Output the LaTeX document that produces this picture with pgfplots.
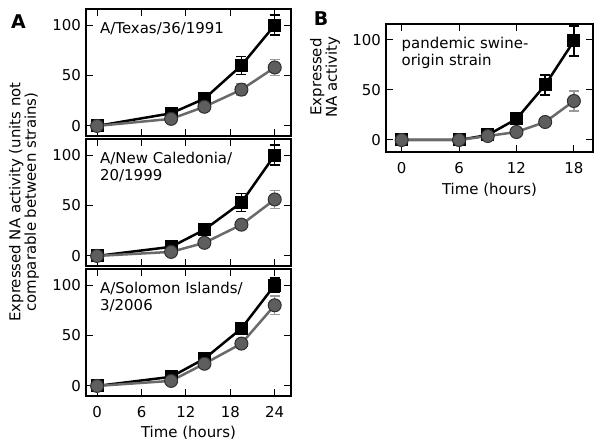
\documentclass[border=0pt]{standalone}
\usepackage{fontspec}
\setmainfont{DejaVu Sans}
\usepackage{pgfplots}
\usepackage{pgfplotstable}
\pgfplotsset{compat=1.18}
\definecolor{grayline}{HTML}{6A6A6A}
\definecolor{grayfill}{HTML}{5E5E5E}
\definecolor{grayedge}{HTML}{2E2E2E}
\definecolor{grayerr}{HTML}{9A9A9A}

% Panel A, Texas
\pgfplotstableread{
x y e
0 0 1.5
10 12.5 2
14.5 27 2
19.5 60 9
24 100 10
}\texB
\pgfplotstableread{
x y e
0 0 1.5
10 7 2
14.5 19 2
19.5 36 6
24 58 8
}\texG
% New Caledonia
\pgfplotstableread{
x y e
0 0 1.5
10 9 2
14.5 26 2
19.5 53 9
24 100 10
}\ncB
\pgfplotstableread{
x y e
0 0 1.5
10 4 2
14.5 13 2
19.5 31 3
24 56 9
}\ncG
% Solomon Islands
\pgfplotstableread{
x y e
0 0 1.5
10 9 2
14.5 27 2
19.5 57 4
24 100 7
}\siB
\pgfplotstableread{
x y e
0 0 1.5
10 5 2
14.5 22 2
19.5 42 4
24 80 9
}\siG
% Panel B
\pgfplotstableread{
x y e
0 0 1.5
6 0 1.5
9 5 2
12 21 3
15 55 10
18 99 15
}\swB
\pgfplotstableread{
x y e
0 0 1.5
6 0 1.5
9 4 2
12 8 2
15 18 3
18 39 10
}\swG

\pgfplotsset{
  base/.style={
    scale only axis, clip=false,
    ymin=-10, ymax=116, ytick={0,50,100},
    tick align=inside, xtick pos=both, ytick pos=both,
    major tick length=7bp,
    every tick/.style={black, line width=1bp},
    axis line style={line width=1.8bp},
    /pgf/number format/assume math mode=true,
    tick label style={font=\fontsize{15}{17}\selectfont},
    xticklabel style={yshift=-5bp},
  },
  axA/.style={base, width=205bp, height=127bp, xmin=-1.5, xmax=26.2, xtick={0,6,12,18,24}},
  blk/.style={black, line width=2.5bp, mark=square*, mark size=6bp,
    mark options={fill=black, draw=black, line width=1bp},
    error bars/.cd, y dir=both, y explicit,
    error bar style={black, line width=1.5bp},
    error mark options={rotate=90, mark size=5bp, black, line width=1.5bp}},
  gry/.style={grayline, line width=2.5bp, mark=*, mark size=6.5bp,
    mark options={fill=grayfill, draw=grayedge, line width=1bp},
    error bars/.cd, y dir=both, y explicit,
    error bar style={grayerr, line width=1.5bp},
    error mark options={rotate=90, mark size=5bp, grayerr, line width=1.5bp}},
}
\tikzset{
  lab/.style={anchor=north west, inner sep=0pt, align=left, font=\fontsize{15}{17}\selectfont},
  ylab/.style={rotate=90, align=center, font=\fontsize{15}{15.5}\selectfont},
}

\begin{document}
\fontsize{15}{17}\selectfont
\begin{tikzpicture}
\path[use as bounding box] (0bp,0bp) rectangle (600bp,447bp);

% A top
\begin{axis}[axA, at={(86bp,311bp)}, anchor=south west, xticklabels={}]
\addplot[blk] table[x=x,y=y,y error=e] {\texB};
\addplot[gry] table[x=x,y=y,y error=e] {\texG};
\node[lab, xshift=14bp, yshift=-13bp] at (axis description cs:0,1) {A/Texas/36/1991};
\end{axis}

% A middle
\begin{axis}[axA, at={(86bp,181bp)}, anchor=south west, xticklabels={}]
\addplot[blk] table[x=x,y=y,y error=e] {\ncB};
\addplot[gry] table[x=x,y=y,y error=e] {\ncG};
\node[lab, xshift=14bp, yshift=-13bp] at (axis description cs:0,1) {A/New Caledonia/\\20/1999};
\end{axis}

% A bottom
\begin{axis}[axA, at={(86bp,51bp)}, anchor=south west]
\addplot[blk] table[x=x,y=y,y error=e] {\siB};
\addplot[gry] table[x=x,y=y,y error=e] {\siG};
\node[lab, xshift=14bp, yshift=-13bp] at (axis description cs:0,1) {A/Solomon Islands/\\3/2006};
\node[yshift=-37bp, font=\fontsize{15}{17}\selectfont] at (axis description cs:0.5,0) {Time (hours)};
\end{axis}

% B
\begin{axis}[base, width=207bp, height=128bp, xmin=-1.64, xmax=20, xtick={0,6,12,18},
  ymin=-12, at={(386bp,295bp)}, anchor=south west]
\addplot[blk] table[x=x,y=y,y error=e] {\swB};
\addplot[gry] table[x=x,y=y,y error=e] {\swG};
\node[lab, xshift=15.5bp, yshift=-13bp] at (axis description cs:0,1) {pandemic swine-\\origin strain};
\node[yshift=-38bp, font=\fontsize{15}{17}\selectfont] at (axis description cs:0.5,0) {Time (hours)};
\end{axis}

\node[ylab] at (24bp,245bp)
  {Expressed NA activity (units not\\comparable between strains)};
\node[ylab] at (325bp,370bp)
  {Expressed\\NA activity};
\node[font=\fontsize{19}{20}\selectfont\bfseries] at (18.5bp,425.5bp) {A};
\node[font=\fontsize{19}{20}\selectfont\bfseries] at (321bp,428bp) {B};
\end{tikzpicture}
\end{document}
